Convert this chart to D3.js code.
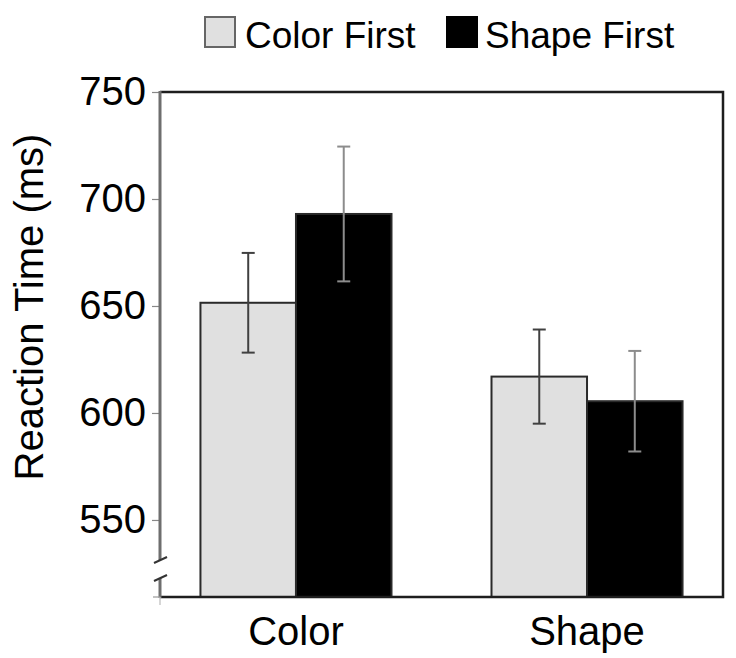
<!DOCTYPE html>
<html>
<head>
<meta charset="utf-8">
<script src="https://cdn.jsdelivr.net/npm/d3@7"></script>
<style>
  html, body { margin: 0; padding: 0; background: #fff; }
  svg { display: block; font-family: "Liberation Sans", Arial, Helvetica, sans-serif; }
</style>
</head>
<body>
<svg id="chart" width="736" height="658"></svg>
<script>
// ---- data ----
const categories = ["Color", "Shape"];
const seriesNames = ["Color First", "Shape First"];
const colorFirstMeans = [651.5, 617];
const shapeFirstMeans = [693, 605.5];
const colorFirstErr = [23.3, 22];
const shapeFirstErr = [31.5, 23.5];
const yTicks = [550, 600, 650, 700, 750];
const yLabel = "Reaction Time (ms)";

const seriesMeans = [colorFirstMeans, shapeFirstMeans];
const seriesErr = [colorFirstErr, shapeFirstErr];
const fills = ["#e0e0e0", "#000000"];
const errColors = ["#404040", "#8c8c8c"];

const rows = [];
categories.forEach((c, i) => {
  seriesNames.forEach((s, j) => {
    rows.push({ cat: c, series: s, j: j, mean: seriesMeans[j][i], err: seriesErr[j][i] });
  });
});

// ---- layout ----
const svg = d3.select("#chart");
const pL = 160, pR = 723, pT = 92, pB = 597;

const y = d3.scaleLinear().domain([514, 750]).range([pB, pT]);
const x0 = d3.scaleBand().domain(categories).range([pL, pR])
  .paddingInner(0.3436).paddingOuter(0.139);
const x1 = d3.scaleBand().domain(seriesNames).range([0, x0.bandwidth()]).padding(0);

// bars
svg.append("g").selectAll("rect").data(rows).join("rect")
  .attr("x", d => x0(d.cat) + x1(d.series))
  .attr("y", d => y(d.mean))
  .attr("width", x1.bandwidth())
  .attr("height", d => pB - y(d.mean))
  .attr("fill", d => fills[d.j])
  .attr("stroke", "#2a2a2a")
  .attr("stroke-width", 2);

// error bars
const eg = svg.append("g").selectAll("g").data(rows).join("g")
  .attr("stroke", d => errColors[d.j])
  .attr("stroke-width", 2)
  .attr("fill", "none");
const cx = d => x0(d.cat) + x1(d.series) + x1.bandwidth() / 2;
eg.append("line")
  .attr("x1", cx).attr("x2", cx)
  .attr("y1", d => y(d.mean + d.err)).attr("y2", d => y(d.mean - d.err));
eg.append("line")
  .attr("x1", d => cx(d) - 6.5).attr("x2", d => cx(d) + 6.5)
  .attr("y1", d => y(d.mean + d.err)).attr("y2", d => y(d.mean + d.err));
eg.append("line")
  .attr("x1", d => cx(d) - 6.5).attr("x2", d => cx(d) + 6.5)
  .attr("y1", d => y(d.mean - d.err)).attr("y2", d => y(d.mean - d.err));

// frame: top, right, bottom
svg.append("path")
  .attr("d", `M${pL},${pT}H${pR}V${pB}H${pL}`)
  .attr("fill", "none").attr("stroke", "#1e1e1e").attr("stroke-width", 2.5);

// y axis (with break)
const yAxis = d3.axisLeft(y).tickValues(yTicks).tickSize(8).tickPadding(6).tickFormat(d3.format("d"));
const ya = svg.append("g").attr("transform", `translate(${pL},0)`).call(yAxis);
ya.select(".domain").remove();
ya.selectAll(".tick line").attr("stroke", "#888").attr("stroke-width", 1.2);
ya.selectAll(".tick text").attr("font-size", 40).attr("fill", "#000")
  .attr("font-family", "'Liberation Sans', Arial, sans-serif");

const breakTop = 560, breakBot = 578;
svg.append("line").attr("x1", pL).attr("x2", pL).attr("y1", pT - 1).attr("y2", breakTop)
  .attr("stroke", "#6e6e6e").attr("stroke-width", 3);
svg.append("line").attr("x1", pL).attr("x2", pL).attr("y1", breakBot).attr("y2", pB + 1)
  .attr("stroke", "#6e6e6e").attr("stroke-width", 3);
[breakTop, breakBot].forEach(b => {
  svg.append("line").attr("x1", pL - 6).attr("x2", pL + 7)
    .attr("y1", b + 3).attr("y2", b - 3)
    .attr("stroke", "#333").attr("stroke-width", 2);
});
// small tick at bottom
svg.append("line").attr("x1", pL - 7).attr("x2", pL).attr("y1", pB).attr("y2", pB)
  .attr("stroke", "#999").attr("stroke-width", 1.2);
svg.append("line").attr("x1", pL).attr("x2", pL).attr("y1", pB).attr("y2", pB + 8)
  .attr("stroke", "#bbb").attr("stroke-width", 1.2);

// x labels
svg.append("g").selectAll("text").data(categories).join("text")
  .attr("x", d => x0(d) + x0.bandwidth() / 2)
  .attr("y", 645)
  .attr("text-anchor", "middle")
  .attr("font-size", 40)
  .text(d => d);

// y title
svg.append("text")
  .attr("transform", "translate(43,307) rotate(-90)")
  .attr("text-anchor", "middle")
  .attr("font-size", 40)
  .text(yLabel);

// legend
const legendX = [204, 446];
const lg = svg.append("g").selectAll("g").data(seriesNames).join("g")
  .attr("transform", (d, i) => `translate(${legendX[i]},16)`);
lg.append("rect").attr("x", 1).attr("y", 1).attr("width", 30).attr("height", 30)
  .attr("fill", (d, i) => fills[i]).attr("stroke", (d, i) => i === 0 ? "#666" : "#000").attr("stroke-width", 2);
lg.append("text").attr("x", (d, i) => i === 0 ? 41 : 39).attr("y", 32)
  .attr("font-size", 37).text(d => d);
</script>
</body>
</html>
